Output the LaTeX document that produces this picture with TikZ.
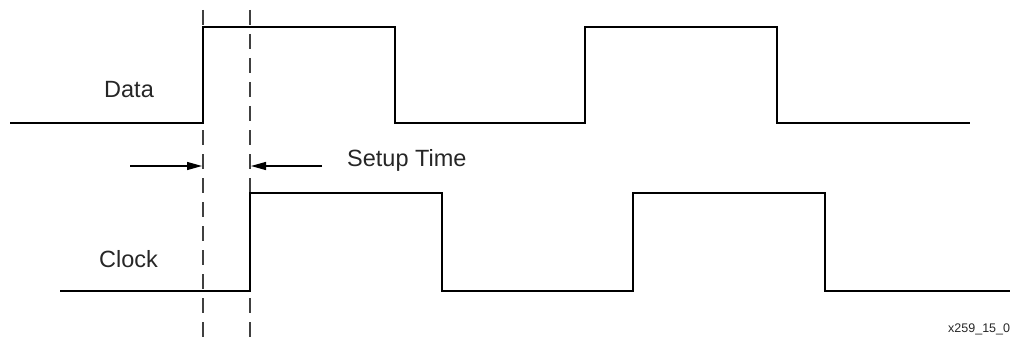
\documentclass[tikz,border=0pt]{standalone}
\usepackage{fontspec}
\setmainfont{Liberation Sans}
\usetikzlibrary{arrows.meta}
\begin{document}
\begin{tikzpicture}[x=1pt,y=-1pt,
  wave/.style={line width=2.6pt,line join=miter},
  guide/.style={line width=1.3pt,dash pattern=on 15pt off 9pt,black!75},
  dim/.style={line width=1.2pt,-{Triangle[length=15pt,width=8pt]}},
  lbl/.style={font=\fontsize{23.5}{28}\selectfont,inner sep=0pt,anchor=base west,text=black!85},
  tag/.style={font=\fontsize{12.5}{15}\selectfont,inner sep=0pt,anchor=base west,text=black!85}]
\useasboundingbox (0,0) rectangle (1010,337);
\clip (0,0) rectangle (1010,337);
% guides
\coordinate (g1t) at (203,10); \coordinate (g1b) at (203,337);
\coordinate (g2t) at (250,10); \coordinate (g2b) at (250,337);
\draw[guide] (g1t) -- (g1b);
\draw[guide] (g2t) -- (g2b);
% data waveform
\draw[wave] (10,123) -- (203,123) -- (203,27) -- (395,27) -- (395,123) -- (585,123) -- (585,27) -- (777,27) -- (777,123) -- (970,123);
% clock waveform
\draw[wave] (60,291) -- (250,291) -- (250,193) -- (442,193) -- (442,291) -- (633,291) -- (633,193) -- (825,193) -- (825,291) -- (1012,291);
% setup arrows
\coordinate (a1s) at (130,166); \coordinate (a1e) at (202,166);
\coordinate (a2s) at (322,166); \coordinate (a2e) at (251,166);
\draw[dim] (a1s) -- (a1e);
\draw[dim] (a2s) -- (a2e);
% labels
\node[lbl] (data) at (104,98) {Data};
\node[lbl] (clock) at (99,267) {Clock};
\node[lbl] (setup) at (347,166) {Setup Time};
\node[tag] (fig) at (948,332) {x259\_15\_0};
\end{tikzpicture}
\end{document}
